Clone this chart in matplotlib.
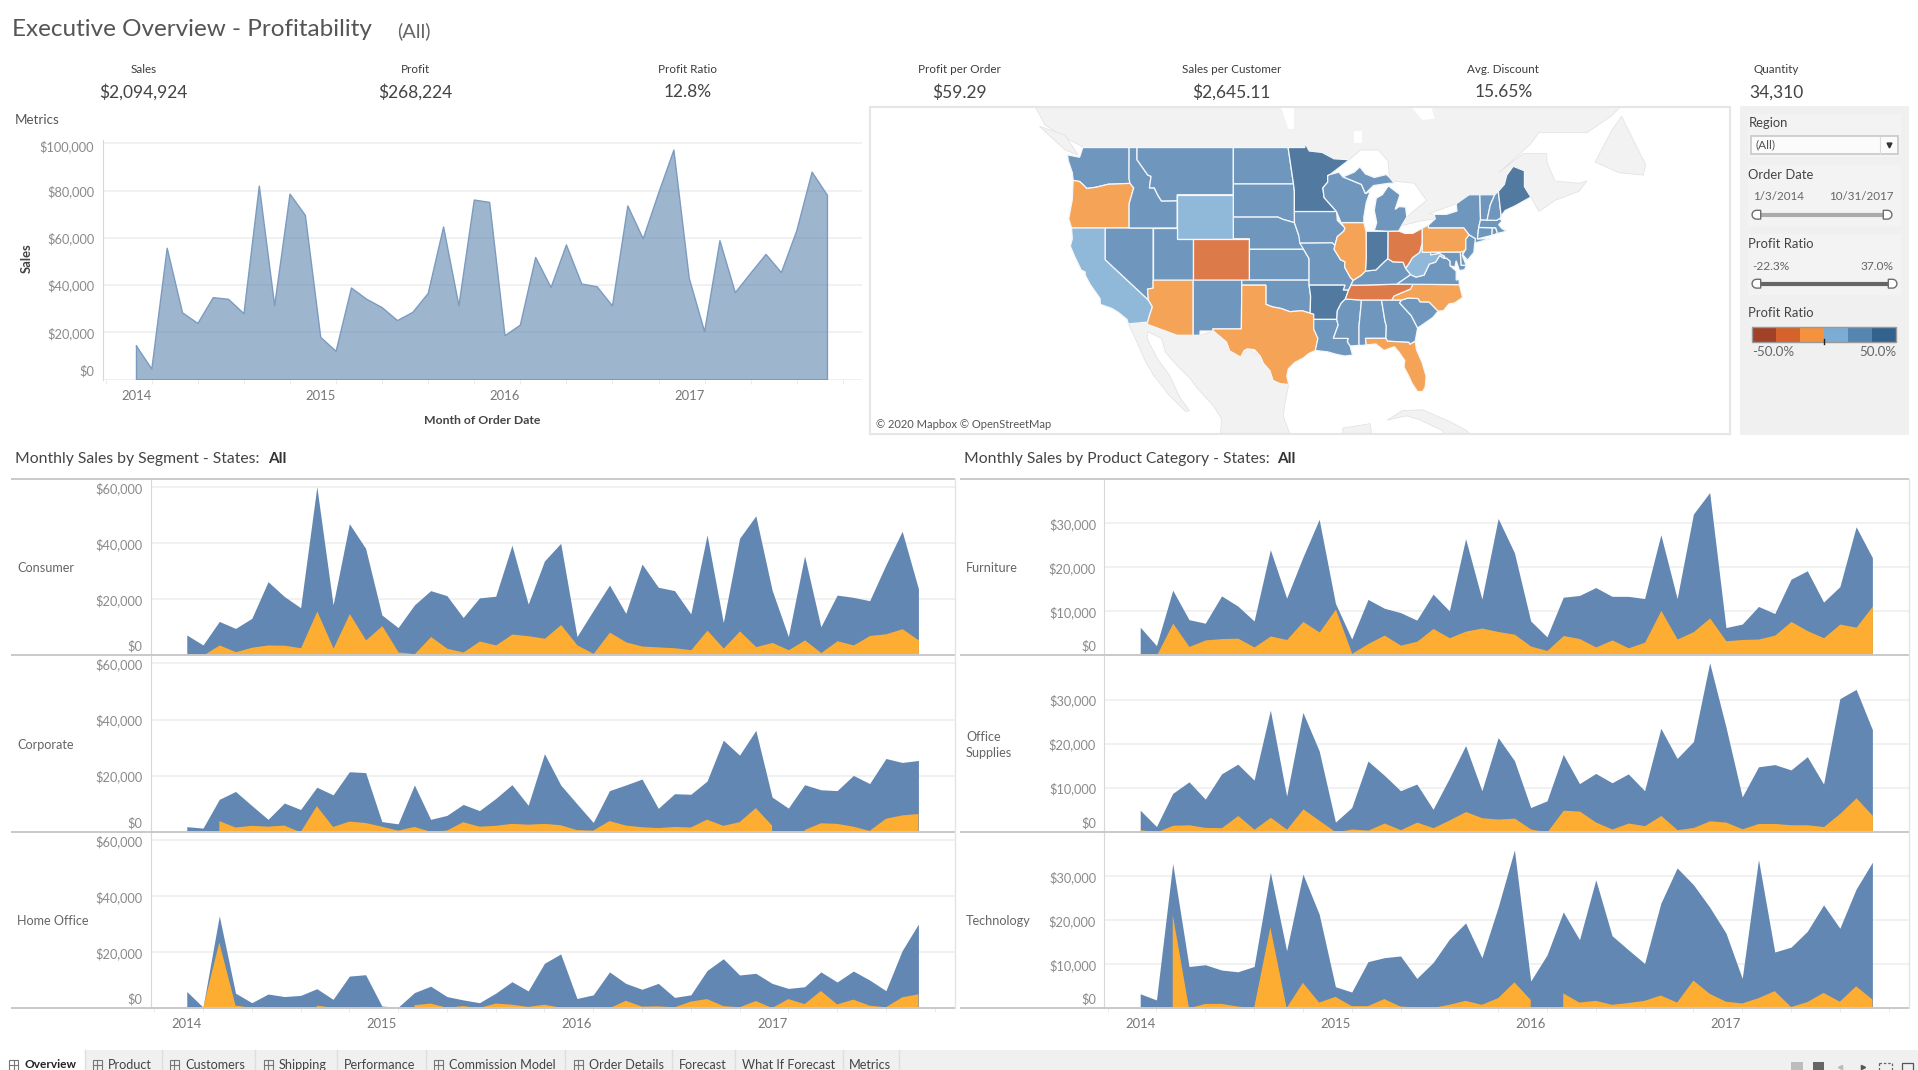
import numpy as np
import matplotlib
matplotlib.use('Agg')
import matplotlib.pyplot as plt
from matplotlib.patches import Rectangle, Polygon
from matplotlib.transforms import ScaledTranslation

plt.rcParams['font.family'] = ['Lato', 'DejaVu Sans']

W, H = 1918, 1070

months = np.arange(46)
year_ticks = [0, 12, 24, 36]
year_labels = ['2014', '2015', '2016', '2017']

sales_total = [14200, 4500, 55600, 28300, 23800, 34700, 34000, 27900, 81900, 31300, 78500, 69500,
               17900, 12000, 38800, 34000, 30500, 25000, 28500, 36500, 64600, 31300, 76000, 75000,
               18600, 23100, 51700, 39000, 57000, 40500, 39300, 31200, 73500, 59600, 78800, 97100,
               42900, 20300, 58800, 36800, 45000, 53000, 45300, 62900, 87800, 78000]

consumer_sales = [7260, 3700, 12100, 9600, 13200, 26300, 21000, 17000, 60200, 18000, 47000, 38200,
                  14400, 9900, 18000, 23100, 21300, 13500, 20500, 21100, 39300, 18300, 33700, 40000,
                  6700, 16000, 25100, 15000, 32600, 24300, 23100, 14800, 43000, 11700, 41800, 49800,
                  23300, 6700, 35500, 10200, 21500, 20700, 19500, 32300, 44300, 23800]
consumer_profit = [700, 100, 3700, 1300, 2900, 3700, 3600, 2700, 15800, 2600, 14900, 5500,
                   10600, 1200, 600, 6700, 2500, 1200, 5100, 3700, 7600, 7000, 6100, 11000,
                   3700, 700, 8300, 4800, 3300, 3000, 2700, 2000, 9000, 2600, 8700, 3100,
                   4600, 2000, 5500, 1000, 5200, 3700, 7100, 7700, 9500, 5500]

corporate_sales = [2000, 1500, 11700, 14500, 9500, 4600, 10400, 8100, 16000, 13300, 21500, 21200,
                   3800, 3000, 16800, 4600, 6000, 9900, 7700, 12000, 16900, 9600, 27900, 16800,
                   10100, 3500, 14800, 16800, 18900, 8500, 13700, 13500, 18200, 32700, 27400, 36200,
                   12500, 8600, 16900, 15100, 14800, 20200, 17300, 26200, 24800, 25500]
corporate_profit = [np.nan, np.nan, 4000, 1700, 2300, 2000, 2400, 0, 9300, 1900, 3800, 3300,
                    2000, 600, 1900, 200, 600, 3600, 2000, 2300, 3000, 2700, 3000, 2500,
                    800, 600, 4000, 2400, 1800, 1500, 1900, 1700, 4500, 2300, 3600, 8600,
                    2400, np.nan, 800, 3200, 3000, 2000, 500, 4800, 6000, 6500]

home_sales = [6000, 400, 33000, 5400, 2000, 5100, 4200, 4600, 7000, 3200, 11500, 12000,
              800, 400, 5600, 7900, 4200, 3000, 2000, 5400, 9500, 6200, 16100, 19400,
              3500, 4800, 13000, 8900, 6800, 8900, 3900, 4800, 13500, 17700, 11900, 12500,
              8900, 7100, 7700, 13000, 9400, 13300, 10100, 6300, 20600, 30100]
home_profit = [np.nan, 0, 23500, 950, 200, np.nan, np.nan, np.nan, 950, 200, 50, 500,
               200, np.nan, 1100, 1700, 200, 800, 100, 1700, 1300, 500, 1300, 200,
               np.nan, np.nan, 0, 2700, 600, 700, 350, 2400, 3300, 800, 350, 2600,
               100, 3300, 1500, 6200, 1400, 3100, 950, 350, 3900, 5000]

furniture_sales = [6400, 2200, 14800, 8100, 7300, 13500, 11200, 7800, 24000, 13000, 22300, 30900,
                   11800, 3700, 12700, 10700, 9700, 8000, 13900, 10100, 26500, 12800, 31100, 23300,
                   7800, 4200, 13200, 13600, 15400, 13400, 13400, 12900, 27400, 12900, 32100, 37000,
                   6300, 7100, 11100, 9500, 17300, 19200, 12100, 15600, 29200, 22200]
furniture_profit = [450, 50, 7300, 2000, 3500, 3800, 3900, 1900, 4400, 3600, 7700, 5300,
                    10500, 450, 2700, 4600, 2300, 3200, 6100, 4000, 5500, 6200, 5400, 4800,
                    2100, 1100, 4500, 3800, 1900, 3500, 1700, 3000, 10200, 3700, 5400, 8500,
                    3300, 3600, 3700, 4600, 7700, 5600, 4000, 7100, 6400, 11200]

office_sales = [5000, 1300, 8800, 11400, 7500, 13200, 15400, 11800, 27600, 8200, 27100, 18400,
                2300, 5600, 16100, 12900, 9400, 10900, 5200, 12200, 19600, 9400, 21400, 16200,
                5600, 7100, 17600, 11000, 13300, 11200, 13200, 9400, 23500, 16700, 20500, 38300,
                23800, 8000, 14800, 15300, 14100, 17100, 10900, 30200, 32300, 23200]
office_profit = [600, 100, 1600, 1700, 1100, 1050, 3800, 700, 3400, 700, 5300, 2700,
                 100, 750, 500, 2100, 600, 2300, 1050, 2800, 4700, 3300, 3000, 3200,
                 750, 100, 5000, 4800, 2300, 750, 2100, 1500, 3800, 600, 1100, 2600,
                 2300, 800, 2000, 2000, 1700, 1700, 1300, 4300, 7800, 3800]

tech_sales = [3300, 1900, 32900, 9500, 9900, 8700, 8300, 9500, 30900, 13100, 30500, 21400,
              4900, 3700, 10600, 11500, 11900, 6800, 10400, 15700, 19400, 11500, 23000, 36000,
              6200, 12100, 21900, 15600, 29200, 16500, 13300, 10200, 23900, 31900, 28100, 23000,
              17100, 6800, 33800, 12800, 13900, 17500, 23500, 18200, 27100, 33200]
tech_profit = [np.nan, np.nan, 21300, 0, 1000, 1000, 400, 50, 18400, 50, 5800, 1300,
               2600, 500, 500, 2100, 400, 200, 100, 800, 1700, 800, 2300, 5900,
               1900, np.nan, 3400, 1300, 1700, 800, 1200, 1700, 2900, 1300, 6300, 3300,
               1500, 1100, 2300, 3900, 300, 1400, 3500, 1500, 5000, 2000]

kpi_names = ['Sales', 'Profit', 'Profit Ratio', 'Profit per Order', 'Sales per Customer', 'Avg. Discount', 'Quantity']
kpi_values = ['$2,094,924', '$268,224', '12.8%', '$59.29', '$2,645.11', '15.65%', '34,310']

tab_names = ['Overview', 'Product', 'Customers', 'Shipping', 'Performance', 'Commission Model',
             'Order Details', 'Forecast', 'What If Forecast', 'Metrics']

legend_colors = ['#a04128', '#d4622a', '#f5923e', '#7cacd3', '#5585b0', '#34628f']

# state outlines as lon, lat
states = {
    'WA': [(-124.7,48.4),(-123.2,48.2),(-122.8,49),(-117.03,49),(-117.04,46.4),(-116.92,45.99),(-119,45.93),(-119.6,45.92),(-121.2,45.65),(-122.3,45.55),(-122.8,45.9),(-123.2,46.15),(-124,46.25),(-124.1,46.9),(-124.6,47.9)],
    'OR': [(-124.2,42),(-117.03,42),(-117.03,44.2),(-116.46,45.6),(-116.92,45.99),(-119,45.93),(-119.6,45.92),(-121.2,45.65),(-122.3,45.55),(-122.8,45.9),(-123.2,46.15),(-124,46.25),(-124.1,44.6),(-124.55,42.84)],
    'CA': [(-124.2,42),(-120,42),(-120,39),(-114.63,35),(-114.13,34.3),(-114.5,33.4),(-114.72,32.72),(-117.12,32.53),(-117.3,33),(-118.4,33.75),(-119.2,34.15),(-120.6,34.55),(-120.65,35.15),(-121.9,36.6),(-122.5,37.5),(-122.5,37.8),(-123,38),(-123.8,39.3),(-124.35,40.3),(-124.1,41)],
    'NV': [(-120,42),(-114.04,42),(-114.04,36.2),(-114.74,36.1),(-114.63,35),(-120,39)],
    'ID': [(-117.03,49),(-116.05,49),(-116.05,48),(-114.7,46.7),(-114.3,46.6),(-114.5,45.6),(-113.9,45.6),(-113.45,44.95),(-113,44.45),(-111.05,44.47),(-111.05,42),(-117.03,42),(-117.03,44.2),(-116.46,45.6),(-116.92,45.99),(-117.04,46.4)],
    'MT': [(-116.05,49),(-104.05,49),(-104.05,45),(-111.05,45),(-111.05,44.47),(-113,44.45),(-113.45,44.95),(-113.9,45.6),(-114.5,45.6),(-114.3,46.6),(-114.7,46.7),(-116.05,48)],
    'WY': [(-111.05,45),(-104.05,45),(-104.05,41),(-111.05,41)],
    'UT': [(-114.04,42),(-111.05,42),(-111.05,41),(-109.05,41),(-109.05,37),(-114.04,37)],
    'CO': [(-109.05,41),(-102.05,41),(-102.05,37),(-109.05,37)],
    'AZ': [(-114.04,37),(-109.05,37),(-109.05,31.33),(-111.07,31.33),(-114.81,32.5),(-114.72,32.72),(-114.5,33.4),(-114.13,34.3),(-114.63,35),(-114.74,36.1),(-114.04,36.2)],
    'NM': [(-109.05,37),(-103,37),(-103.05,32),(-106.62,32),(-106.53,31.78),(-108.2,31.78),(-108.2,31.33),(-109.05,31.33)],
    'ND': [(-104.05,49),(-97.23,49),(-96.56,45.94),(-104.05,45.94)],
    'SD': [(-104.05,45.94),(-96.56,45.94),(-96.45,45.3),(-96.45,43.5),(-96.44,42.49),(-97.9,42.8),(-98.5,43),(-104.05,43)],
    'NE': [(-104.05,43),(-98.5,43),(-97.9,42.8),(-96.44,42.49),(-95.9,41.3),(-95.31,40),(-102.05,40),(-102.05,41),(-104.05,41)],
    'KS': [(-102.05,40),(-95.31,40),(-94.62,39.1),(-94.62,37),(-102.05,37)],
    'OK': [(-103,37),(-94.62,37),(-94.62,36.5),(-94.43,35.4),(-94.48,33.64),(-95.5,33.9),(-97,33.8),(-98.1,34.13),(-99.2,34.3),(-100,34.56),(-100,36.5),(-103,36.5)],
    'TX': [(-103,36.5),(-100,36.5),(-100,34.56),(-99.2,34.3),(-98.1,34.13),(-97,33.8),(-95.5,33.9),(-94.48,33.64),(-94.04,33.55),(-94.04,31.99),(-93.52,31),(-93.84,29.7),(-94.7,29.35),(-95.3,28.9),(-96.4,28.4),(-97.2,27.7),(-97.4,26.9),(-97.15,25.96),(-98.2,26.05),(-99.1,26.4),(-99.5,27.5),(-100.3,28.3),(-100.7,29.1),(-101.4,29.77),(-102.3,29.88),(-102.7,29.7),(-103.15,28.98),(-104.5,29.65),(-104.9,30.6),(-106.53,31.78),(-106.62,32),(-103.05,32)],
    'MN': [(-97.23,49),(-95.15,49),(-95.15,49.38),(-94.6,48.72),(-93,48.6),(-91.5,48.07),(-89.6,48),(-92,46.75),(-92.3,46.66),(-92.3,46.1),(-92.9,45.6),(-92.75,44.75),(-91.2,43.5),(-96.45,43.5),(-96.45,45.3),(-96.56,45.94)],
    'IA': [(-96.45,43.5),(-91.2,43.5),(-91.1,42.7),(-90.15,42),(-90.3,41.7),(-91.1,41.2),(-91.4,40.38),(-91.73,40.61),(-95.77,40.58),(-95.9,41.3),(-96.44,42.49)],
    'MO': [(-95.77,40.58),(-91.73,40.61),(-91.4,40.38),(-91.5,40),(-90.7,39),(-90.15,38.8),(-90.2,38.3),(-89.5,37.3),(-89.13,36.98),(-89.4,36.5),(-89.7,36),(-90.37,36),(-90.15,36.5),(-94.62,36.5),(-94.62,39.1),(-95.31,40)],
    'AR': [(-94.62,36.5),(-90.15,36.5),(-90.37,36),(-89.7,36),(-90.1,35.1),(-90.6,34.7),(-91.1,33.9),(-91.17,33),(-94.04,33),(-94.04,33.55),(-94.48,33.64),(-94.43,35.4)],
    'LA': [(-94.04,33),(-91.17,33),(-91,32.4),(-91.6,31),(-89.73,31),(-89.85,30.65),(-89.5,30.18),(-89.4,29.8),(-89.2,29.2),(-90.2,29.1),(-91.3,29.3),(-92.3,29.55),(-93.84,29.7),(-93.52,31),(-94.04,31.99)],
    'MS': [(-90.1,35.1),(-88.2,35),(-88.1,34.9),(-88.4,32.3),(-88.4,30.25),(-89.5,30.18),(-89.85,30.65),(-89.73,31),(-91.6,31),(-91,32.4),(-91.17,33),(-91.1,33.9),(-90.6,34.7)],
    'AL': [(-88.2,35),(-85.6,35),(-85.18,32.87),(-85,32.3),(-85.05,31),(-87.6,31),(-87.5,30.3),(-88,30.25),(-88.4,30.25),(-88.4,32.3),(-88.1,34.9)],
    'GA': [(-85.6,35),(-83.1,35),(-83.35,34.7),(-81.9,33.4),(-81.1,32.1),(-81.4,30.7),(-82.05,30.36),(-82.2,30.57),(-84.86,30.7),(-85.05,31),(-85,32.3),(-85.18,32.87)],
    'FL': [(-87.6,31),(-85.05,31),(-84.86,30.7),(-82.2,30.57),(-82.05,30.36),(-81.4,30.7),(-81.25,29.8),(-80.55,28.4),(-80.05,26.9),(-80.15,25.7),(-80.45,25.2),(-81.1,25.15),(-81.8,26.1),(-82.2,26.9),(-82.8,27.9),(-82.7,28.6),(-83.4,29.5),(-84,30.1),(-85.3,29.7),(-86.3,30.4),(-87.5,30.3)],
    'SC': [(-83.35,34.7),(-83.1,35),(-82.3,35.2),(-81.04,35.15),(-80.8,34.82),(-79.67,34.8),(-78.55,33.86),(-79.2,33.2),(-80.4,32.5),(-81.1,32.1),(-81.9,33.4)],
    'NC': [(-84.32,35),(-83.1,35),(-82.3,35.2),(-81.04,35.15),(-80.8,34.82),(-79.67,34.8),(-78.55,33.86),(-77.9,33.9),(-77.2,34.6),(-76.5,34.7),(-75.5,35.25),(-75.9,36.55),(-81.68,36.59),(-82,36.1),(-83.2,35.7),(-84.05,35.4)],
    'TN': [(-90.1,35.1),(-88.2,35),(-85.6,35),(-84.32,35),(-84.05,35.4),(-83.2,35.7),(-82,36.1),(-81.68,36.59),(-83.68,36.6),(-88.07,36.5),(-89.4,36.5),(-89.7,36)],
    'KY': [(-89.4,36.5),(-88.07,36.5),(-83.68,36.6),(-81.97,37.54),(-82.6,38.17),(-82.9,38.75),(-84.2,38.8),(-84.82,39.1),(-85.4,38.7),(-86.3,38),(-87.6,37.9),(-88.1,37.5),(-89.13,36.98)],
    'VA': [(-83.68,36.6),(-81.68,36.59),(-75.9,36.55),(-75.95,37.1),(-76.3,37),(-76.3,37.9),(-77.05,38.4),(-77.05,38.85),(-77.5,39.15),(-77.8,39.13),(-78.35,39.4),(-78.87,38.77),(-79.65,38.58),(-80.3,37.5),(-81.3,37.3),(-81.97,37.54)],
    'WV': [(-81.97,37.54),(-81.3,37.3),(-80.3,37.5),(-79.65,38.58),(-78.87,38.77),(-78.35,39.4),(-77.8,39.13),(-77.72,39.32),(-78.4,39.62),(-79.48,39.47),(-79.48,39.72),(-80.52,39.72),(-80.52,40.64),(-80.85,39.7),(-81.75,39.2),(-82.2,38.6),(-82.6,38.17)],
    'OH': [(-84.82,39.1),(-84.8,41.7),(-83.45,41.72),(-82.7,41.5),(-81.7,41.5),(-80.52,41.98),(-80.52,40.64),(-80.85,39.7),(-81.75,39.2),(-82.2,38.6),(-82.6,38.17),(-82.9,38.75),(-84.2,38.8)],
    'IN': [(-87.53,41.7),(-84.8,41.7),(-84.82,39.1),(-85.4,38.7),(-86.3,38),(-87.6,37.9),(-87.5,39.35)],
    'IL': [(-90.65,42.5),(-87.8,42.5),(-87.53,41.7),(-87.5,39.35),(-87.6,37.9),(-88.1,37.5),(-89.13,36.98),(-89.5,37.3),(-90.2,38.3),(-90.15,38.8),(-90.7,39),(-91.5,40),(-91.4,40.38),(-91.1,41.2),(-90.3,41.7),(-90.15,42)],
    'WI': [(-92.3,46.66),(-92,46.75),(-90.9,46.95),(-90.4,46.55),(-88.1,45.9),(-87.6,45.1),(-87,45.3),(-87.5,44.3),(-87.8,43),(-87.8,42.5),(-90.65,42.5),(-91.2,43.5),(-92.75,44.75),(-92.9,45.6),(-92.3,46.1)],
    'MI': [(-86.5,41.76),(-84.8,41.7),(-83.45,41.72),(-83.1,42.2),(-82.45,43),(-82.6,43.9),(-83.4,43.95),(-83.9,43.7),(-83.3,45),(-84.75,45.78),(-85.5,45),(-86.25,44.7),(-86.5,43.6),(-86.2,42.5)],
    'MI2': [(-90.4,46.55),(-88.1,45.9),(-87.6,45.1),(-86.6,45.8),(-84.7,46),(-84,46),(-84.6,46.5),(-85,46.75),(-86.5,46.5),(-87.6,46.8),(-88.3,47.4),(-89,46.95)],
    'NY': [(-79.76,42.27),(-79.76,42),(-75.35,42),(-74.7,41.36),(-73.9,41),(-74,40.6),(-72,41),(-73.65,40.98),(-73.5,42.05),(-73.27,42.75),(-73.3,43.6),(-73.35,45),(-74.7,45),(-76.3,44.2),(-76.2,43.55),(-77.5,43.25),(-79.05,43.25),(-78.9,42.85)],
    'PA': [(-80.52,41.98),(-79.76,42.27),(-79.76,42),(-75.35,42),(-74.7,41.36),(-75.1,40.95),(-75.1,40),(-75.4,39.8),(-75.79,39.72),(-80.52,39.72)],
    'NJ': [(-74.7,41.36),(-73.9,41),(-74,40.5),(-74.1,39.7),(-74.9,38.95),(-75.5,39.5),(-75.1,40),(-75.1,40.95)],
    'DE': [(-75.79,39.72),(-75.4,39.8),(-75.55,39.45),(-75.05,38.45),(-75.7,38.45)],
    'MD': [(-79.48,39.72),(-75.79,39.72),(-75.7,38.45),(-75.05,38.45),(-75.25,38.03),(-75.9,37.95),(-76.3,38.9),(-76.45,38.3),(-77.05,38.4),(-77.05,38.85),(-77.5,39.15),(-77.8,39.13),(-77.72,39.32),(-78.4,39.62),(-79.48,39.47)],
    'CT': [(-73.65,40.98),(-71.85,41.32),(-71.8,42.02),(-73.5,42.05)],
    'RI': [(-71.85,41.32),(-71.15,41.5),(-71.38,42.02),(-71.8,42.02)],
    'MA': [(-73.5,42.05),(-71.8,42.02),(-71.38,42.02),(-71.15,41.5),(-70,41.7),(-70.6,41.95),(-71,42.3),(-70.6,42.65),(-70.85,42.87),(-71.3,42.7),(-72.45,42.73),(-73.27,42.75)],
    'VT': [(-73.27,42.75),(-72.45,42.73),(-72.05,44.1),(-71.5,45),(-73.35,45),(-73.3,43.6)],
    'NH': [(-72.45,42.73),(-71.3,42.7),(-70.85,42.87),(-70.7,43.1),(-71.05,45.3),(-71.5,45),(-72.05,44.1)],
    'ME': [(-71.05,45.3),(-70.7,43.1),(-70.2,43.6),(-69,44),(-67,44.8),(-67.8,45.7),(-67.8,47.07),(-69.2,47.45),(-70,46.7),(-70.3,45.9)],
}

# profit ratio bin per state
dark_blue = ['MN', 'AR', 'IN', 'ME']
light_blue = ['WY', 'CA', 'WV']
orange = ['OR', 'AZ', 'TX', 'IL', 'PA', 'NC', 'FL']
dark_orange = ['CO', 'OH', 'TN']

land = [
    [(-128.8,52.3),(-127.5,50.8),(-125,49.8),(-123.2,49.2),(-122.8,49),(-95.15,49),(-95.15,49.38),(-94.6,48.72),(-93,48.6),(-91.5,48.07),(-89.6,48),(-88.2,48.8),(-86,48.8),(-84.8,47.9),(-84.6,46.5),(-84.4,46.2),(-81.5,46),(-80,44.5),(-81.7,43.5),(-82.45,43),(-83.1,42.2),(-81,42.6),(-79,42.85),(-79.05,43.25),(-79.7,43.3),(-76.3,44.2),(-74.7,45),(-71.5,45),(-70.3,45.9),(-69.2,47.45),(-67.8,47.07),(-67.8,45.7),(-67,44.8),(-66,43.5),(-64,44.5),(-61,45.3),(-60,46.2),(-61,46),(-64,46.2),(-65,47.8),(-65,48.5),(-68,48.5),(-71,46.9),(-67,49.3),(-66,50.2),(-60,50.2),(-57,51.5),(-55.7,52.3)],
    [(-59,47.8),(-56,46.9),(-53,46.7),(-52.7,47.6),(-54,49.3),(-55.7,51.5),(-57,50.3)],
    [(-128.2,50.7),(-125,50),(-123.4,48.4),(-125,48.8)],
    [(-117.12,32.53),(-114.72,32.72),(-114.81,32.5),(-111.07,31.33),(-108.2,31.33),(-106.53,31.78),(-104.9,30.6),(-104.5,29.65),(-103.15,28.98),(-102.3,29.88),(-100.7,29.1),(-99.5,27.5),(-99.1,26.4),(-97.15,25.96),(-97.7,23.5),(-97.8,22.3),(-96.9,20),(-105.7,20),(-105.5,22),(-106.5,23.5),(-108.5,25.5),(-109.5,26.7),(-111,28),(-112.5,29.5),(-113,31),(-114.7,31.7),(-114.8,31),(-113.5,28.8),(-112,27),(-110.7,24.5),(-109.5,23),(-110,22.9),(-112,24.7),(-114,27),(-115,28.5),(-116,30.5)],
    [(-90.5,20),(-90.4,21),(-87,21.5),(-86.8,20)],
    [(-84.9,21.9),(-83,23),(-80.5,23.1),(-77,21.7),(-75,20.7),(-74.2,20),(-77.5,20),(-78,20.7),(-81,22),(-82.5,22.4)],
]
lakes = [
    [(-99,53),(-96.5,53),(-96.5,50.5),(-97.2,50.5),(-98,52)],
    [(-89,50.3),(-88,50.3),(-88,49.4),(-89,49.4)],
    [(-82.3,52.5),(-79.5,52.5),(-79,51.3),(-80.5,51.2)],
]

# map view
map_lon = (-149.3, -42.2)
map_lat = (20.3, 52.2)


def px_axes(fig, left, top, right, bottom, **kw):
    return fig.add_axes([left / W, 1 - bottom / H, (right - left) / W, (bottom - top) / H], **kw)


def merc(pts):
    arr = np.array(pts, dtype=float)
    lam = np.radians(arr[:, 0])
    phi = np.radians(arr[:, 1])
    return np.column_stack([lam, np.log(np.tan(np.pi / 4 + phi / 2))])


def dollars(v):
    return '${:,.0f}'.format(v)


def style_axes(ax, ticks, ymax, tick_color='#8a8a8a', size=9.2):
    ax.set_xlim(-2.2, 47.25)
    ax.set_ylim(0, ymax)
    ax.set_yticks(ticks)
    ax.set_yticklabels([dollars(t) for t in ticks], fontsize=size, color=tick_color)
    ax.grid(axis='y', color='#f0f0f0', lw=1.3)
    ax.set_axisbelow(True)
    ax.tick_params(axis='y', length=0, pad=6)
    for s in ax.spines.values():
        s.set_visible(False)
    ax.spines['left'].set_visible(True)
    ax.spines['left'].set_color('#d8d8d8')
    # bottom label sits above the line in the original
    lab = ax.get_yticklabels()[0]
    lab.set_transform(lab.get_transform() + ScaledTranslation(0, 7 / 72, fig.dpi_scale_trans))
    ax.patch.set_alpha(0)


def small_multiple(left, right, top, bottom, ymax, ticks, sales, profit, last):
    ax = px_axes(fig, left, top, right, bottom)
    style_axes(ax, ticks, ymax)
    ax.fill_between(months, 0, sales, color='#6287b2', lw=0)
    ax.fill_between(months, 0, profit, color='#fdae32', lw=0)
    if last:
        ax.set_xticks(year_ticks)
        ax.set_xticklabels(year_labels, fontsize=9.4, color='#777777')
        ax.tick_params(axis='x', length=0, pad=7)
        ax.set_xticks(np.arange(-2, 47, 3), minor=True)
        ax.tick_params(axis='x', which='minor', length=3, color='#e6e6e6')
    else:
        ax.set_xticks([])
    return ax


def handle(top, x_flat, y, side):
    # slider thumb: flat towards the bar, round on the outside
    t = np.radians(np.linspace(-90, 90, 25))
    r = 4.4
    xs = x_flat + side * (4.2 + r * np.cos(t))
    ys = y + r * np.sin(t)
    pts = np.column_stack([np.r_[x_flat, xs, x_flat], np.r_[y - r, ys, y + r]])
    top.add_patch(Polygon(pts, closed=True, fc='white', ec='#6e6e6e', lw=1, zorder=4))


fig = plt.figure(figsize=(W / 100, H / 100), dpi=100, facecolor='white')

# overlay in pixel coordinates for text and the filter pane
ov = fig.add_axes([0, 0, 1, 1], zorder=0)
ov.set_xlim(0, W)
ov.set_ylim(H, 0)
ov.axis('off')

top = fig.add_axes([0, 0, 1, 1], zorder=5)
top.set_xlim(0, W)
top.set_ylim(H, 0)
top.axis('off')
top.patch.set_alpha(0)

TXT = '#3c3c3c'
top.text(12, 30, 'Executive Overview - Profitability', fontsize=17.5, color='#555555', va='center')
top.text(397, 31.5, '(All)', fontsize=14.4, color='#666666', va='center')

kpi_x = [143.7, 415.3, 687.4, 959.6, 1231.8, 1503.3, 1776]
for x, name, val in zip(kpi_x, kpi_names, kpi_values):
    top.text(x, 69.5, name, ha='center', va='center', fontsize=8.4, color=TXT)
    top.text(x, 92.3, val, ha='center', va='center', fontsize=12.5, color='#444444')

# metrics area chart
top.text(15, 120, 'Metrics', fontsize=9.6, color='#555555', va='center')
ax0 = px_axes(fig, 102.7, 140, 862, 379.7, zorder=2)
style_axes(ax0, [0, 20000, 40000, 60000, 80000, 100000], 101400)
ax0.fill_between(months, 0, sales_total, facecolor='#4e79a7', alpha=0.55, lw=0)
ax0.plot(np.r_[months, months[::-1][[0, -1]], 0], np.r_[sales_total, 0, 0, sales_total[0]], color='#7c9bc0', lw=1)
ax0.set_xticks(year_ticks)
ax0.set_xticklabels(year_labels, fontsize=9.4, color='#777777')
ax0.tick_params(axis='x', length=0, pad=7.5)
ax0.set_xticks(np.arange(-2, 47, 3), minor=True)
ax0.tick_params(axis='x', which='minor', length=3, color='#e6e6e6')
ax0.axhline(0, color='#efefef', lw=1.3, zorder=0)
ax0.get_yticklabels()[-1].set_transform(ax0.get_yticklabels()[-1].get_transform() + ScaledTranslation(0, -2 / 72, fig.dpi_scale_trans))
top.text(27, 258, 'Sales', rotation=90, ha='center', va='center', fontsize=9.4, color='#444444', fontweight='bold')
top.text(481.7, 420, 'Month of Order Date', ha='center', va='center', fontsize=8.8, color='#444444', fontweight='bold')

# map
ax_map = px_axes(fig, 870, 107, 1730, 434, zorder=2)
lims = merc([(map_lon[0], map_lat[0]), (map_lon[1], map_lat[1])])
ax_map.set_xlim(lims[0, 0], lims[1, 0])
ax_map.set_ylim(lims[0, 1], lims[1, 1])
ax_map.set_xticks([])
ax_map.set_yticks([])
for s in ax_map.spines.values():
    s.set_color('#e6e6e6')
    s.set_linewidth(1.5)
for poly in land:
    ax_map.add_patch(Polygon(merc(poly), closed=True, fc='#f2f2f2', ec='#e0e0e0', lw=0.5))
for poly in lakes:
    ax_map.add_patch(Polygon(merc(poly), closed=True, fc='white', ec='none'))
for name, poly in states.items():
    if name in dark_blue:
        c = '#52799f'
    elif name in light_blue:
        c = '#8fb8d9'
    elif name in orange:
        c = '#f5a356'
    elif name in dark_orange:
        c = '#dc7b49'
    else:
        c = '#6f97bd'
    ax_map.add_patch(Polygon(merc(poly), closed=True, fc=c, ec='#f4f7fa', lw=0.9))
ax_map.text(6 / 860, 10 / 327, '\u00a9 2020 Mapbox \u00a9 OpenStreetMap', transform=ax_map.transAxes, fontsize=8,
            color='#555555', va='center')

# filter pane
ov.add_patch(Rectangle((1740, 106), 169, 329, fc='#f0f0f0', ec='none'))
for y0, y1 in [(114, 157), (165, 226), (234, 295)]:
    ov.add_patch(Rectangle((1747.5, y0), 153.5, y1 - y0, fc='#f3f3f3', ec='none'))
pane_text = [('Region', 122.7), ('Order Date', 175), ('Profit Ratio', 244), ('Profit Ratio', 312.7)]
for label, y in pane_text:
    top.text(1748.5, y, label, fontsize=9.4, color='#444444', va='center')
top.add_patch(Rectangle((1751.3, 135.7), 146.4, 18.6, fc='#fbfbfb', ec='#c8c8c8', lw=1.2))
top.plot([1879.7, 1879.7], [136.5, 153.5], color='#dcdcdc', lw=0.8)
top.text(1755.4, 145, '(All)', fontsize=8.6, color='#555555', va='center')
top.plot([1889], [145], marker='v', ms=3.5, color='#333333')
top.text(1752.7, 197, '1/3/2014', fontsize=8.4, color='#666666', va='center')
top.text(1893.7, 197, '10/31/2017', fontsize=8.4, color='#666666', va='center', ha='right')
top.text(1752.7, 266, '-22.3%', fontsize=8.6, color='#666666', va='center')
top.text(1893.7, 266, '37.0%', fontsize=8.6, color='#666666', va='center', ha='right')
for x0, x1, y, col in [(1760.7, 1883.3, 214.7, '#ababab'), (1760.7, 1888.3, 283.7, '#666666')]:
    top.plot([x0, x1], [y, y], color=col, lw=3, solid_capstyle='butt')
    handle(top, x0, y, -1)
    handle(top, x1, y, 1)
sw = (1896.4 - 1752) / 6
for i, c in enumerate(legend_colors):
    top.add_patch(Rectangle((1752 + i * sw, 326.7), sw, 15, fc=c, ec='none'))
top.add_patch(Rectangle((1752, 326.7), 144.4, 15, fc='none', ec='#999999', lw=1))
top.plot([1824, 1824], [339, 343.5], color='#222222', lw=1)
top.text(1752, 351.7, '-50.0%', fontsize=9.6, color='#666666', va='center')
top.text(1896, 351.7, '50.0%', fontsize=9.6, color='#666666', va='center', ha='right')

# small multiples
rows = [(479.3, 655.3), (655.3, 832.3), (832.3, 1008.3)]
left_rows = [('Consumer', consumer_sales, consumer_profit), ('Corporate', corporate_sales, corporate_profit),
             ('Home Office', home_sales, home_profit)]
right_rows = [('Furniture', furniture_sales, furniture_profit), ('Office\nSupplies', office_sales, office_profit),
              ('Technology', tech_sales, tech_profit)]
for i, ((t, b), lr, rr) in enumerate(zip(rows, left_rows, right_rows)):
    small_multiple(151, 955, t, b, 60000 * (b - t) / (b - t - 8), [0, 20000, 40000, 60000], lr[1], lr[2], i == 2)
    small_multiple(1104.4, 1909, t, b, 40000, [0, 10000, 20000, 30000], rr[1], rr[2], i == 2)
    top.text(17, (t + b) / 2 + 1, lr[0], fontsize=9.1, color='#666666', va='center')
    top.text(966, (t + b) / 2 + 1, rr[0], fontsize=9.1, color='#666666', va='center', linespacing=1.35)

for x0, x1 in [(11, 955), (960, 1909)]:
    for y in [479.3, 655.3, 832.3, 1008.3]:
        top.plot([x0, x1], [y, y], color='#c9c9c9', lw=1.4, solid_capstyle='butt')
    top.plot([x1, x1], [479.3, 1008.3], color='#e4e4e4', lw=1)

top.text(15, 459, 'Monthly Sales by Segment - States:', fontsize=11.3, color='#444444', va='center')
top.text(267.6, 459, 'All', fontsize=11, color='#333333', va='center', fontweight='bold')
top.text(964, 459, 'Monthly Sales by Product Category - States:', fontsize=11.3, color='#444444', va='center')
top.text(1277, 459, 'All', fontsize=11, color='#333333', va='center', fontweight='bold')

# tab strip
top.add_patch(Rectangle((0, 1050), W, 20, fc='#f0f0f0', ec='none', clip_on=True))
tab_edges = [0, 84.5, 161.7, 255.4, 337.4, 425.6, 565, 672.4, 734.8, 843.3, 899]
tab_text_x = [24.5, 108, 185, 279, 343.5, 449, 589, 678.5, 741.6, 848.7]
tab_icon_x = [13.5, 97, 174, 268, None, 438, 578, None, None, None]
top.add_patch(Rectangle((0, 1050), 84.5, 20, fc='white', ec='none'))
for e in tab_edges[1:]:
    top.plot([e, e], [1050, 1070], color='#dedede', lw=1)
for k, (name, tx, ic) in enumerate(zip(tab_names, tab_text_x, tab_icon_x)):
    top.text(tx, 1065, name, fontsize=8.6 if k == 0 else 9.1, color='#222222' if k == 0 else '#444444', va='center',
             fontweight='bold' if k == 0 else 'normal')
    if ic is not None:
        top.add_patch(Rectangle((ic - 4.5, 1060), 9, 10, fc='none', ec='#777777', lw=0.8))
        top.plot([ic, ic], [1060, 1070], color='#777777', lw=0.8)
        top.plot([ic - 4.5, ic + 4.5], [1065, 1065], color='#777777', lw=0.8)
top.add_patch(Rectangle((1791, 1062), 12, 8, fc='#bdbdbd', ec='none'))
top.add_patch(Rectangle((1813, 1062), 11, 8, fc='#666666', ec='none'))
top.plot([1840], [1067], marker='<', ms=3, color='#bbbbbb')
top.plot([1863], [1067], marker='>', ms=3, color='#555555')
top.add_patch(Rectangle((1879, 1063), 13, 8, fc='none', ec='#666666', lw=0.9, ls=(0, (2, 1.5))))
top.add_patch(Rectangle((1902, 1063), 11, 8, fc='none', ec='#555555', lw=0.9))

fig.savefig('out.png', dpi=100)
plt.close(fig)
